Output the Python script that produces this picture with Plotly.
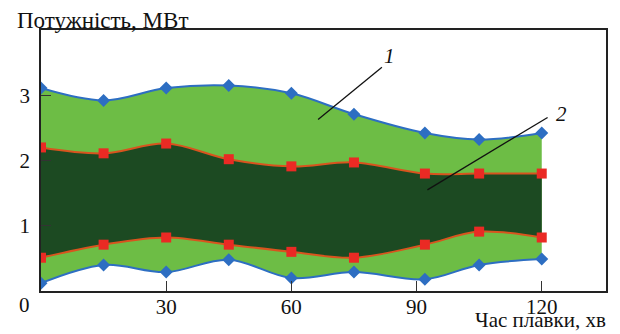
import plotly.graph_objects as go

minutes = [0, 15, 30, 45, 60, 75, 92, 105, 120]
p_max_outer = [3.11, 2.92, 3.11, 3.15, 3.03, 2.71, 2.42, 2.32, 2.42]
p_max_inner = [2.20, 2.11, 2.26, 2.02, 1.91, 1.97, 1.80, 1.80, 1.80]
p_min_inner = [0.51, 0.71, 0.82, 0.71, 0.60, 0.51, 0.71, 0.91, 0.82]
p_min_outer = [0.12, 0.40, 0.29, 0.48, 0.20, 0.29, 0.18, 0.40, 0.49]

x_ticks = [30, 60, 90, 120]
y_ticks = [1, 2, 3]

LIGHT = "#6dbd45"
DARK = "#1c4a22"
BLUE = "#2d6ec2"
RED_LINE = "#d8541e"
RED_MK = "#ea2a24"
FONT = "Liberation Serif"
FS = 21

fig = go.Figure()
fig.add_trace(go.Scatter(x=minutes, y=p_min_outer, mode="lines",
                         line=dict(color=BLUE, width=2, shape="spline"),
                         showlegend=False, hoverinfo="skip"))
fig.add_trace(go.Scatter(x=minutes, y=p_max_outer, mode="lines",
                         line=dict(color=BLUE, width=2, shape="spline"),
                         fill="tonexty", fillcolor=LIGHT,
                         showlegend=False, hoverinfo="skip"))
fig.add_trace(go.Scatter(x=minutes, y=p_min_inner, mode="lines",
                         line=dict(color=RED_LINE, width=2, shape="spline"),
                         showlegend=False, hoverinfo="skip"))
fig.add_trace(go.Scatter(x=minutes, y=p_max_inner, mode="lines",
                         line=dict(color=RED_LINE, width=2, shape="spline"),
                         fill="tonexty", fillcolor=DARK,
                         showlegend=False, hoverinfo="skip"))
# markers on top
for ys in (p_min_outer, p_max_outer):
    fig.add_trace(go.Scatter(x=minutes, y=ys, mode="markers",
                             marker=dict(symbol="diamond", size=10, color=BLUE),
                             showlegend=False))
for ys in (p_min_inner, p_max_inner):
    fig.add_trace(go.Scatter(x=minutes, y=ys, mode="markers",
                             marker=dict(symbol="square", size=10, color=RED_MK),
                             showlegend=False))

# leader lines and curve labels
fig.add_shape(type="line", x0=66.4, y0=2.63, x1=81.7, y1=3.43,
              line=dict(color="#111111", width=1.3))
fig.add_shape(type="line", x0=92.6, y0=1.55, x1=121.4, y1=2.66,
              line=dict(color="#111111", width=1.3))
fig.add_annotation(x=83.6, y=3.6, text="<i>1</i>", showarrow=False,
                   font=dict(family=FONT, size=FS, color="#111"))
fig.add_annotation(x=124.8, y=2.71, text="<i>2</i>", showarrow=False,
                   font=dict(family=FONT, size=FS, color="#111"))

# axis titles and corner zero
fig.add_annotation(xref="paper", yref="paper", x=-0.0454, y=1.037,
                   xanchor="left", yanchor="middle", text="Потужність, МВт",
                   showarrow=False, font=dict(family=FONT, size=23, color="#111"))
fig.add_annotation(xref="paper", yref="paper", x=1.004, y=-0.11,
                   xanchor="right", yanchor="middle", text="Час плавки, хв",
                   showarrow=False, font=dict(family=FONT, size=21, color="#111"))
fig.add_annotation(xref="paper", yref="paper", x=-0.0288, y=-0.0536,
                   xanchor="center", yanchor="middle", text="0",
                   showarrow=False, font=dict(family=FONT, size=FS, color="#111"))

fig.update_xaxes(range=[0, 135.4], tickvals=x_ticks, ticks="inside", ticklen=10,
                 tickcolor="#333", showline=True, linecolor="#222", linewidth=1.5,
                 mirror=True, showgrid=False, zeroline=False,
                 ticklabelstandoff=-4,
                 tickfont=dict(family=FONT, size=FS, color="#111"))
fig.update_yaxes(range=[0, 4], tickvals=y_ticks, ticks="inside", ticklen=10,
                 tickcolor="#333", showline=True, linecolor="#222", linewidth=1.5,
                 mirror=True, showgrid=False, zeroline=False,
                 ticklabelstandoff=5,
                 tickfont=dict(family=FONT, size=FS, color="#111"))
fig.update_layout(width=612, height=326, margin=dict(l=26, r=13, t=22, b=43),
                  plot_bgcolor="white", paper_bgcolor="white")
fig.write_html("out.html")
